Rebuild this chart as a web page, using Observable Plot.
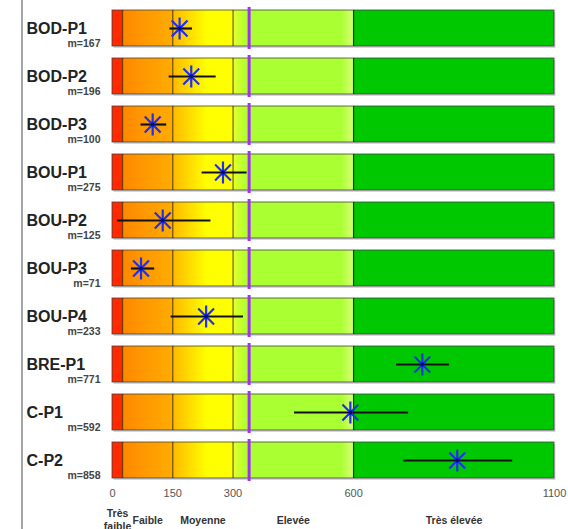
<!DOCTYPE html>
<html><head><meta charset="utf-8">
<script src="https://cdn.jsdelivr.net/npm/d3@7"></script>
<script src="https://cdn.jsdelivr.net/npm/@observablehq/plot@0.6"></script>
<style>
body{margin:0;background:#fff;}
#wrap{position:relative;width:568px;height:529px;overflow:hidden;}
#edge{position:absolute;left:21px;top:0;width:2px;height:529px;background:#a6a6a6;z-index:1;}
</style></head><body><div id="wrap"><div id="edge"></div></div>
<script>
const sites = ["BOD-P1","BOD-P2","BOD-P3","BOU-P1","BOU-P2","BOU-P3","BOU-P4","BRE-P1","C-P1","C-P2"];
const mValues = [167,196,100,275,125,71,233,771,592,858];
const lowValues = [143,141,71,223,13,47,146,707,453,725];
const highValues = [199,258,135,335,245,105,326,839,737,996];
const tickValues = [0,150,300,600,1100];
const zoneBreaks = [25,150,300,600];
const zoneNames = ["Très\nfaible","Faible","Moyenne","Elevée","Très élevée"];
const threshold = 340;

// gradient stops: [value, colour]
const gradientStops = [
  [0,"#ff2a00"],[25,"#ff2a00"],[25,"#ff8800"],[150,"#ffac00"],[150,"#ffb800"],[215,"#ffee00"],[235,"#ffff00"],
  [300,"#ffff00"],[300,"#e4ff2a"],[340,"#aaff33"],[570,"#aaff33"],[592,"#ccff66"],[600,"#ccff66"],
  [600,"#00c800"],[1100,"#00c800"]
];

const xMin = tickValues[0], xMax = tickValues[tickValues.length-1];
const rows = sites.map((s,i)=>({site:s, m:mValues[i], lo:lowValues[i], hi:highValues[i]}));
const breakRows = rows.flatMap(r => zoneBreaks.map(b => ({site:r.site, v:b})));
const edges = [xMin, ...zoneBreaks, xMax];
const zoneRows = zoneNames.map((n,i)=>({name:n, mid:(edges[i]+edges[i+1])/2}));

const starSymbol = {
  draw(ctx, size) {
    const r = Math.sqrt(size/Math.PI);
    const d = r*0.72;
    ctx.moveTo(0,-r); ctx.lineTo(0,r);
    ctx.moveTo(-d,-d); ctx.lineTo(d,d);
    ctx.moveTo(-d,d); ctx.lineTo(d,-d);
  }
};

const font = "Liberation Sans, Arial, sans-serif";

const plot = Plot.plot({
  width: 568, height: 529,
  marginLeft: 112, marginRight: 14, marginTop: 2, marginBottom: 43,
  style: {fontFamily: font, background: "transparent"},
  x: {domain: [xMin, xMax], axis: null},
  y: {domain: sites, axis: null, paddingInner: 0.25, paddingOuter: 0.125},
  marks: [
    Plot.barX(rows, {y:"site", x1:()=>xMin, x2:()=>xMax, fill:"#000", fillOpacity:0.16, dx:1.5, dy:2}),
    Plot.barX(rows, {y:"site", x1:()=>xMin, x2:()=>xMax, fill:"url(#zoneGrad)", stroke:"#3a3a3a", strokeOpacity:0.75, strokeWidth:1}),
    Plot.tickX(breakRows, {x:"v", y:"site", stroke:"#000", strokeOpacity:0.55, strokeWidth:1.3}),
    Plot.tickX(rows, {x:()=>threshold, y:"site", stroke:"#a52ff0", strokeWidth:3, insetTop:-3, insetBottom:-3}),
    Plot.ruleY(rows, {y:"site", x1:"lo", x2:"hi", stroke:"#111", strokeWidth:2.2}),
    Plot.dot(rows, {x:"m", y:"site", symbol:starSymbol, r:11, stroke:"#1f2ff0", strokeWidth:2.2}),
    Plot.dot(rows, {x:"m", y:"site", r:2, fill:"#001070", stroke:null}),
    Plot.text(rows, {y:"site", text:"site", frameAnchor:"left", textAnchor:"start", dx:-86, fontSize:16, fontWeight:"bold", fill:"#222"}),
    Plot.text(rows, {y:"site", text:d=>"m="+d.m, frameAnchor:"left", textAnchor:"end", dx:-12, dy:15, fontSize:10.5, fontWeight:"bold", fill:"#444", style:"letter-spacing:2px"}),
    Plot.text(tickValues, {x:d=>d, text:d=>String(d), frameAnchor:"bottom", dy:7, lineAnchor:"middle", fontSize:11, fill:"#555", style:"letter-spacing:0.6px"}),
    Plot.text(zoneRows, {x:"mid", text:"name", frameAnchor:"bottom", dy:33, lineAnchor:"middle", lineHeight:1.25, fontSize:10.5, fontWeight:"bold", fill:"#333", style:"letter-spacing:1.8px"})
  ]
});

const ns = "http://www.w3.org/2000/svg";
const defs = document.createElementNS(ns, "defs");
const grad = document.createElementNS(ns, "linearGradient");
grad.setAttribute("id", "zoneGrad");
grad.setAttribute("x1", "0"); grad.setAttribute("x2", "1");
grad.setAttribute("y1", "0"); grad.setAttribute("y2", "0");
for (const [v, c] of gradientStops) {
  const s = document.createElementNS(ns, "stop");
  s.setAttribute("offset", ((v - xMin)/(xMax - xMin)).toString());
  s.setAttribute("stop-color", c);
  grad.appendChild(s);
}
defs.appendChild(grad);
plot.insertBefore(defs, plot.firstChild);
document.getElementById("wrap").appendChild(plot);
</script></body></html>
